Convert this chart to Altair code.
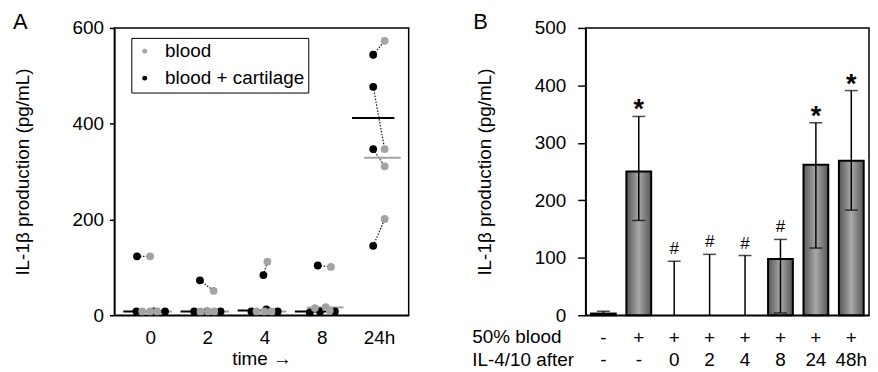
import altair as alt
import pandas as pd

FONT = "Liberation Sans"
FS = 19

# ---------------- Panel A data ----------------
times = ["0", "2", "4", "8", "24h"]
blood_vals = [[123, 8, 8, 8], [51, 8, 8, 8], [112, 8, 8, 8], [101, 15, 17, 10], [573, 347, 311, 201]]
cart_vals = [[123, 8, 8, 8], [73, 8, 8, 8], [84, 8, 12, 8], [104, 6, 8, 8], [544, 477, 347, 145]]
blood_jitter = [[0.0, -0.14, 0.0, 0.12], [0.11, -0.12, 0.01, 0.12], [0.05, -0.14, 0.0, 0.12],
                [0.16, -0.12, 0.07, 0.14], [0.1, 0.1, 0.1, 0.1]]
cart_jitter = [[-0.23, -0.24, 0.07, 0.26], [-0.13, -0.23, 0.0, 0.23], [-0.02, -0.23, 0.03, 0.23],
               [-0.07, -0.21, -0.03, 0.23], [-0.1, -0.1, -0.1, -0.1]]
series_names = ["blood", "blood + cartilage"]

# ---------------- Panel B data ----------------
blood_row = ["-", "+", "+", "+", "+", "+", "+", "+"]
after_row = ["-", "-", "0", "2", "4", "8", "24", "48h"]
means = [3, 250, 0, 0, 0, 98, 262, 269]
err_hi = [7, 346, 94, 106, 104, 132, 335, 391]
err_lo = [None, 165, None, None, None, 4, 117, 183]
signif = ["", "*", "#", "#", "#", "#", "*", "*"]

# ---------------- tables ----------------
rows = []
for t in range(len(times)):
    for s in range(4):
        rows.append(dict(t=t, subj=f"{t}-{s}", series=series_names[1], z=0,
                         value=cart_vals[t][s], x=t + cart_jitter[t][s]))
for t in range(len(times)):
    for s in range(4):
        rows.append(dict(t=t, subj=f"{t}-{s}", series=series_names[0], z=1,
                         value=blood_vals[t][s], x=t + blood_jitter[t][s]))
dfA = pd.DataFrame(rows)

cats = [f"{b}|{a}" for b, a in zip(blood_row, after_row)]
dfB = pd.DataFrame({
    "cat": cats,
    "mean": means,
    "hi": err_hi,
    "lo": err_lo,
    "lo0": [v if v is not None else 0 for v in err_lo],
    "sig": signif,
})

# ---------------- Panel A ----------------
xscaleA = alt.Scale(domain=[-0.626, 4.52], nice=False, zero=False)
yscaleA = alt.Scale(domain=[0, 600], nice=False)
label_expr = "[" + ",".join(f"'{t}'" for t in times) + "][datum.value]"
xaxA = alt.Axis(values=list(range(len(times))), labelExpr=label_expr, ticks=False,
                labelPadding=13, titlePadding=3, grid=False, title="time \u2192")
yaxA = alt.Axis(values=[0, 200, 400, 600], tickSize=5, labelPadding=6, titlePadding=40,
                grid=False, title="IL-1\u03b2 production (pg/mL)")
cscale = alt.Scale(domain=series_names, range=["#a3a3a3", "black"])


def XA(field):
    return alt.X(field, scale=xscaleA, axis=xaxA)


def YA(field):
    return alt.Y(field, scale=yscaleA, axis=yaxA)


lines = alt.Chart(dfA).mark_line(strokeDash=[1.5, 1.5], strokeWidth=1.3, color="#222222").encode(
    x=XA("x:Q"), y=YA("value:Q"), detail="subj:N")

med_base = alt.Chart(dfA).transform_aggregate(
    med="median(value)", groupby=["t", "series"]
).transform_calculate(
    x1="datum.t + (datum.series == 'blood' ? 0.06 - 0.32 : -0.1 - 0.37)",
    x2="datum.t + (datum.series == 'blood' ? 0.06 + 0.32 : -0.1 + 0.37)",
)
med_cart = med_base.transform_filter(f"datum.series == '{series_names[1]}'").mark_rule(
    strokeWidth=2, color="black").encode(x=XA("x1:Q"), x2="x2:Q", y=YA("med:Q"))
med_blood = med_base.transform_filter(f"datum.series == '{series_names[0]}'").mark_rule(
    strokeWidth=2, color="#a3a3a3").encode(x=XA("x1:Q"), x2="x2:Q", y=YA("med:Q"))

points = alt.Chart(dfA).mark_circle(size=62, opacity=1).encode(
    x=XA("x:Q"), y=YA("value:Q"),
    color=alt.Color("series:N", scale=cscale,
                    legend=alt.Legend(title=None, orient="none", legendX=17, legendY=10,
                                      strokeColor="black", fillColor="white", padding=4,
                                      labelFontSize=FS, labelFont=FONT, symbolSize=24,
                                      symbolType="circle", rowPadding=7, labelOffset=11,
                                      symbolStrokeWidth=0)),
    order=alt.Order("z:Q"))

letterA = alt.Chart(pd.DataFrame({"a": [0]})).mark_text(
    text="A", align="left", baseline="alphabetic", fontSize=22, font=FONT, color="black"
).encode(x=alt.value(-102), y=alt.value(1))

panelA = alt.layer(lines, med_cart, med_blood, points, letterA).properties(width=296, height=289)

# ---------------- Panel B ----------------
xscaleB = alt.Scale(paddingInner=0.3, paddingOuter=0.15)
yscaleB = alt.Scale(domain=[0, 500], nice=False)
xaxB = alt.Axis(labelExpr="split(datum.label, '|')", ticks=False, labelPadding=13,
                labelLineHeight=23, labelAngle=0, title=None, grid=False)
yaxB = alt.Axis(values=[0, 100, 200, 300, 400, 500], tickSize=8, labelPadding=12,
                titlePadding=40, grid=False, title="IL-1\u03b2 production (pg/mL)")


def XB():
    return alt.X("cat:N", sort=cats, scale=xscaleB, axis=xaxB)


def YB(field):
    return alt.Y(field, scale=yscaleB, axis=yaxB)


grad = alt.Gradient(
    gradient="linear",
    stops=[alt.GradientStop(color="#555555", offset=0),
           alt.GradientStop(color="#a9a9a9", offset=0.5),
           alt.GradientStop(color="#555555", offset=1)],
    x1=0, x2=1, y1=0, y2=0)

bars = alt.Chart(dfB).transform_filter("datum.mean > 0").mark_bar(
    fill=grad, stroke="black", strokeWidth=2).encode(x=XB(), y=YB("mean:Q"))

err = alt.Chart(dfB).mark_rule(color="black", strokeWidth=1.5).encode(
    x=XB(), y=YB("lo0:Q"), y2="hi:Q")

cap_hi = alt.Chart(dfB).mark_tick(color="black", thickness=1.5, size=13).encode(
    x=XB(), y=YB("hi:Q"))
cap_lo = alt.Chart(dfB).transform_filter("datum.lo != null").mark_tick(
    color="black", thickness=1.5, size=13).encode(x=XB(), y=YB("lo:Q"))

stars = alt.Chart(dfB).transform_filter("datum.sig == '*'").mark_text(
    fontSize=27, fontWeight="bold", baseline="alphabetic", dy=2, font=FONT, color="black"
).encode(x=XB(), y=YB("hi:Q"), text="sig:N")
hashes = alt.Chart(dfB).transform_filter("datum.sig == '#'").mark_text(
    fontSize=17, baseline="alphabetic", dy=-7, font=FONT, color="black"
).encode(x=XB(), y=YB("hi:Q"), text="sig:N")

hdr1 = alt.Chart(pd.DataFrame({"a": [0]})).mark_text(
    text="50% blood", align="left", baseline="top", fontSize=FS, font=FONT, color="black"
).encode(x=alt.value(-114), y=alt.value(302))
hdr2 = alt.Chart(pd.DataFrame({"a": [0]})).mark_text(
    text="IL-4/10 after", align="left", baseline="top", fontSize=FS, font=FONT, color="black"
).encode(x=alt.value(-114), y=alt.value(325))

letterB = alt.Chart(pd.DataFrame({"a": [0]})).mark_text(
    text="B", align="left", baseline="alphabetic", fontSize=22, font=FONT, color="black"
).encode(x=alt.value(-113), y=alt.value(1))

panelB = alt.layer(bars, err, cap_hi, cap_lo, stars, hashes, hdr1, hdr2, letterB).properties(
    width=285, height=289)

chart = alt.hconcat(panelA, panelB, spacing=62).properties(
    padding={"left": 4, "top": 1, "right": 0, "bottom": 0}
).configure_view(
    stroke="black", strokeWidth=1.5
).configure_axis(
    domainColor="black", domainWidth=1.5, tickColor="black", tickWidth=1.5,
    labelColor="black", titleColor="black", labelFont=FONT, titleFont=FONT,
    labelFontSize=FS, titleFontSize=FS, titleFontWeight="normal"
).configure_legend(
    labelColor="black"
)

chart.save("out.html", embed_options={"renderer": "svg", "actions": False})
